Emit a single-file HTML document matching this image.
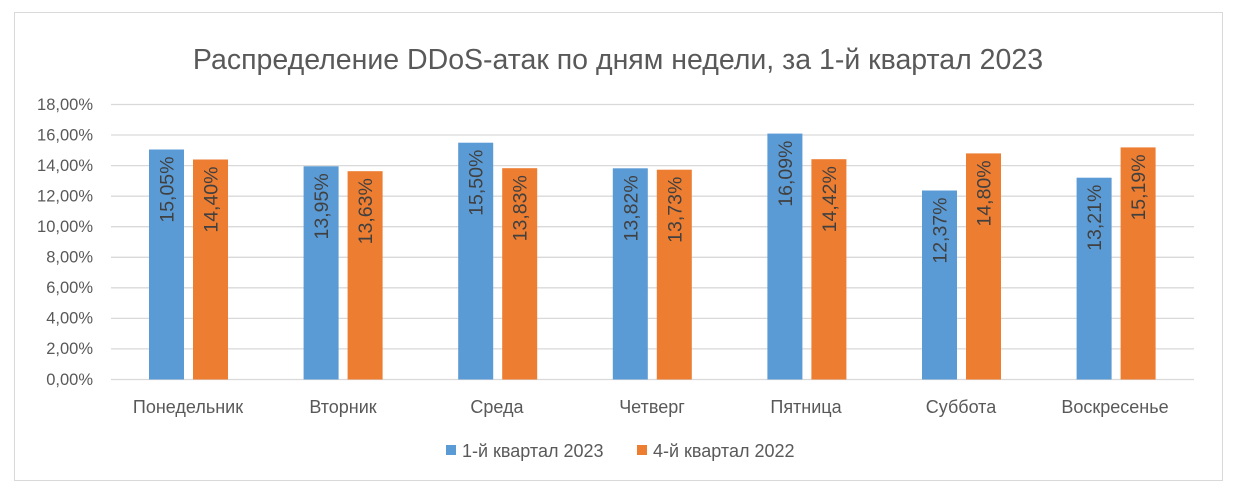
<!DOCTYPE html>
<html><head><meta charset="utf-8"><style>
body{margin:0;background:#fff}
svg text{font-family:"Liberation Sans","DejaVu Sans",sans-serif;fill:#595959}
svg .v{fill:#404040;font-size:19.5px}
</style></head><body>
<svg width="1238" height="493" viewBox="0 0 1238 493" xmlns="http://www.w3.org/2000/svg">
<rect x="0" y="0" width="1238" height="493" fill="#fff"/>
<rect x="14.5" y="12.5" width="1208" height="468" fill="none" stroke="#d9d9d9"/>
<text x="618" y="69" font-size="28.5" text-anchor="middle">Распределение DDoS-атак по дням недели, за 1-й квартал 2023</text>
<g stroke="#d9d9d9" stroke-width="1.3">
<line x1="111" x2="1194" y1="104.5" y2="104.5"/><line x1="111" x2="1194" y1="135" y2="135"/>
<line x1="111" x2="1194" y1="165.6" y2="165.6"/><line x1="111" x2="1194" y1="196.2" y2="196.2"/>
<line x1="111" x2="1194" y1="226.7" y2="226.7"/><line x1="111" x2="1194" y1="257.3" y2="257.3"/>
<line x1="111" x2="1194" y1="287.8" y2="287.8"/><line x1="111" x2="1194" y1="318.4" y2="318.4"/>
<line x1="111" x2="1194" y1="348.9" y2="348.9"/><line x1="111" x2="1194" y1="379.5" y2="379.5"/>
</g>
<g font-size="16.5" text-anchor="end">
<text x="93" y="110">18,00%</text><text x="93" y="140.5">16,00%</text><text x="93" y="171">14,00%</text>
<text x="93" y="201.5">12,00%</text><text x="93" y="232">10,00%</text><text x="93" y="262.5">8,00%</text>
<text x="93" y="293">6,00%</text><text x="93" y="323.5">4,00%</text><text x="93" y="354">2,00%</text><text x="93" y="385">0,00%</text>
</g>
<g fill="#5b9bd5">
<rect x="149" y="149.5" width="35" height="230"/>
<rect x="303.6" y="166.3" width="35" height="213.2"/>
<rect x="458.2" y="142.7" width="35" height="236.8"/>
<rect x="612.8" y="168.3" width="35" height="211.2"/>
<rect x="767.4" y="133.6" width="35" height="245.9"/>
<rect x="922" y="190.5" width="35" height="189"/>
<rect x="1076.6" y="177.7" width="35" height="201.8"/>
</g>
<g fill="#ed7d31">
<rect x="193" y="159.5" width="35" height="220"/>
<rect x="347.6" y="171.2" width="35" height="208.3"/>
<rect x="502.2" y="168.2" width="35" height="211.3"/>
<rect x="656.8" y="169.7" width="35" height="209.8"/>
<rect x="811.4" y="159.2" width="35" height="220.3"/>
<rect x="966" y="153.4" width="35" height="226.1"/>
<rect x="1120.6" y="147.4" width="35" height="232.1"/>
</g>
<g text-anchor="end">
<text class="v" transform="translate(173.5,156.5) rotate(-90)">15,05%</text>
<text class="v" transform="translate(328.1,173.3) rotate(-90)">13,95%</text>
<text class="v" transform="translate(482.7,149.7) rotate(-90)">15,50%</text>
<text class="v" transform="translate(637.3,175.3) rotate(-90)">13,82%</text>
<text class="v" transform="translate(791.9,140.6) rotate(-90)">16,09%</text>
<text class="v" transform="translate(946.5,197.5) rotate(-90)">12,37%</text>
<text class="v" transform="translate(1101.1,184.7) rotate(-90)">13,21%</text>
<text class="v" transform="translate(217.5,166.5) rotate(-90)">14,40%</text>
<text class="v" transform="translate(372.1,178.2) rotate(-90)">13,63%</text>
<text class="v" transform="translate(526.7,175.2) rotate(-90)">13,83%</text>
<text class="v" transform="translate(681.3,176.7) rotate(-90)">13,73%</text>
<text class="v" transform="translate(835.9,166.2) rotate(-90)">14,42%</text>
<text class="v" transform="translate(990.5,160.4) rotate(-90)">14,80%</text>
<text class="v" transform="translate(1145.1,154.4) rotate(-90)">15,19%</text>
</g>
<g font-size="18" text-anchor="middle">
<text x="188" y="413">Понедельник</text><text x="343" y="413">Вторник</text><text x="497" y="413">Среда</text>
<text x="652" y="413">Четверг</text><text x="806" y="413">Пятница</text><text x="961" y="413">Суббота</text><text x="1115" y="413">Воскресенье</text>
</g>
<rect x="446" y="445" width="10" height="10" fill="#5b9bd5"/>
<text x="462" y="457" font-size="18">1-й квартал 2023</text>
<rect x="637" y="445" width="10" height="10" fill="#ed7d31"/>
<text x="653" y="457" font-size="18">4-й квартал 2022</text>
</svg>
</body></html>
